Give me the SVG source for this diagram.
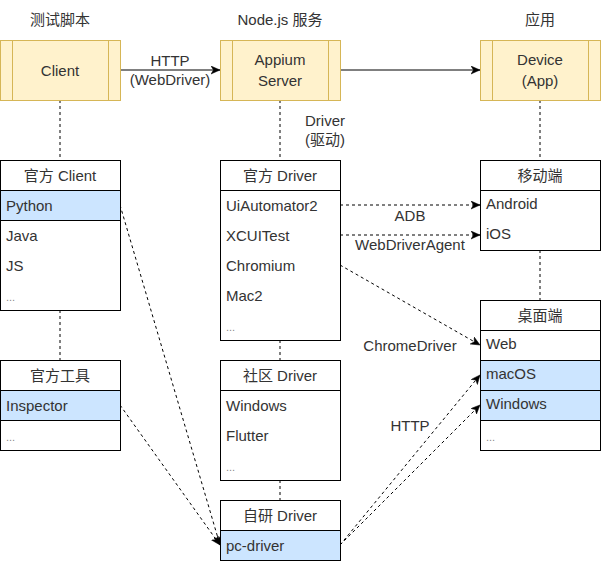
<svg xmlns="http://www.w3.org/2000/svg" width="601" height="561" viewBox="0 0 601 561">
<style>
text{font-family:"Liberation Sans","Noto Sans CJK SC",Arial,sans-serif;font-size:15px;fill:#333}
.c{text-anchor:middle}
.y{fill:#fff2cc;stroke:#d6b656;stroke-width:1}
.w{fill:#fff;stroke:#000;stroke-width:1}
.b{fill:#cce5ff;stroke:#000;stroke-width:1}
.l{stroke:#000;stroke-width:1;fill:none}
.d{stroke:#000;stroke-width:1;fill:none;stroke-dasharray:3 3}
.dim{fill:#888;font-size:11px}
</style>
<defs>
<marker id="ah" markerUnits="userSpaceOnUse" markerWidth="10" markerHeight="10" refX="9" refY="4" orient="auto">
<path d="M0,0 L9,4 L0,8 L2.5,4 Z" fill="#000" stroke="#000" stroke-width="0.5"/>
</marker>
</defs>
<rect width="601" height="561" fill="#fff"/>
<text class="c" x="60" y="25">测试脚本</text>
<text class="c" x="280" y="25">Node.js 服务</text>
<text class="c" x="540" y="25">应用</text>

<g id="connectors">
<line class="l" x1="120" y1="70" x2="220" y2="70" marker-end="url(#ah)"/>
<line class="l" x1="340" y1="70" x2="480" y2="70" marker-end="url(#ah)"/>
<line class="d" x1="60" y1="100" x2="60" y2="160"/>
<line class="d" x1="280" y1="100" x2="280" y2="160"/>
<line class="d" x1="540" y1="100" x2="540" y2="160"/>
<line class="d" x1="60" y1="310" x2="60" y2="360"/>
<line class="d" x1="280" y1="340" x2="280" y2="360"/>
<line class="d" x1="280" y1="480" x2="280" y2="500"/>
<line class="d" x1="540" y1="250" x2="540" y2="300"/>
<line class="d" x1="340" y1="205" x2="480" y2="205" marker-end="url(#ah)"/>
<line class="d" x1="340" y1="235" x2="480" y2="235" marker-end="url(#ah)"/>
<line class="d" x1="340" y1="265" x2="480" y2="345" marker-end="url(#ah)"/>
<line class="d" x1="120" y1="205" x2="220" y2="545" marker-end="url(#ah)"/>
<line class="d" x1="120" y1="405" x2="220" y2="545" marker-end="url(#ah)"/>
<line class="d" x1="340" y1="545" x2="480" y2="375" marker-end="url(#ah)"/>
<line class="d" x1="340" y1="545" x2="480" y2="405" marker-end="url(#ah)"/>
<text class="c" x="170" y="66">HTTP</text>
<text class="c" x="170" y="85">(WebDriver)</text>
<text class="c" x="325" y="126">Driver</text>
<text class="c" x="325" y="145">(驱动)</text>
<text class="c" x="410" y="221">ADB</text>
<text class="c" x="410" y="250">WebDriverAgent</text>
<text class="c" x="410" y="351">ChromeDriver</text>
<text class="c" x="410" y="431">HTTP</text>
</g>

<g id="client">
<rect class="y" x="0.5" y="40.5" width="120" height="60"/>
<line class="y" x1="12.5" y1="40.5" x2="12.5" y2="100.5"/>
<line class="y" x1="108.5" y1="40.5" x2="108.5" y2="100.5"/>
<text class="c" x="60" y="76">Client</text>
</g>
<g id="appium-server">
<rect class="y" x="220.5" y="40.5" width="120" height="60"/>
<line class="y" x1="232.5" y1="40.5" x2="232.5" y2="100.5"/>
<line class="y" x1="328.5" y1="40.5" x2="328.5" y2="100.5"/>
<text class="c" x="280" y="65">Appium</text>
<text class="c" x="280" y="86">Server</text>
</g>
<g id="device">
<rect class="y" x="480.5" y="40.5" width="120" height="60"/>
<line class="y" x1="492.5" y1="40.5" x2="492.5" y2="100.5"/>
<line class="y" x1="588.5" y1="40.5" x2="588.5" y2="100.5"/>
<text class="c" x="540" y="65">Device</text>
<text class="c" x="540" y="86">(App)</text>
</g>

<g id="official-client">
<rect class="w" x="0.5" y="160.5" width="120" height="150"/>
<rect class="b" x="0.5" y="190.5" width="120" height="30"/>
<text class="c" x="60" y="181">官方 Client</text>
<text x="6" y="211">Python</text>
<text x="6" y="241">Java</text>
<text x="6" y="271">JS</text>
<text x="6" y="301" class="dim">...</text>
</g>

<g id="official-driver">
<rect class="w" x="220.5" y="160.5" width="120" height="180"/>
<line class="l" x1="220.5" y1="190.5" x2="340.5" y2="190.5"/>
<text class="c" x="280" y="181">官方 Driver</text>
<text x="226" y="211">UiAutomator2</text>
<text x="226" y="241">XCUITest</text>
<text x="226" y="271">Chromium</text>
<text x="226" y="301">Mac2</text>
<text x="226" y="331" class="dim">...</text>
</g>

<g id="official-tools">
<rect class="w" x="0.5" y="360.5" width="120" height="90"/>
<rect class="b" x="0.5" y="390.5" width="120" height="30"/>
<text class="c" x="60" y="381">官方工具</text>
<text x="6" y="411">Inspector</text>
<text x="6" y="441" class="dim">...</text>
</g>

<g id="community-driver">
<rect class="w" x="220.5" y="360.5" width="120" height="120"/>
<line class="l" x1="220.5" y1="390.5" x2="340.5" y2="390.5"/>
<text class="c" x="280" y="381">社区 Driver</text>
<text x="226" y="411">Windows</text>
<text x="226" y="441">Flutter</text>
<text x="226" y="471" class="dim">...</text>
</g>

<g id="custom-driver">
<rect class="w" x="220.5" y="500.5" width="120" height="60"/>
<rect class="b" x="220.5" y="530.5" width="120" height="30"/>
<text class="c" x="280" y="521">自研 Driver</text>
<text x="226" y="551">pc-driver</text>
</g>

<g id="mobile">
<rect class="w" x="480.5" y="160.5" width="120" height="90"/>
<line class="l" x1="480.5" y1="190.5" x2="600.5" y2="190.5"/>
<text class="c" x="540" y="181">移动端</text>
<text x="486" y="209">Android</text>
<text x="486" y="239">iOS</text>
</g>

<g id="desktop">
<rect class="w" x="480.5" y="300.5" width="120" height="150"/>
<line class="l" x1="480.5" y1="330.5" x2="600.5" y2="330.5"/>
<rect class="b" x="480.5" y="360.5" width="120" height="30"/>
<rect class="b" x="480.5" y="390.5" width="120" height="30"/>
<text class="c" x="540" y="321">桌面端</text>
<text x="486" y="349">Web</text>
<text x="486" y="379">macOS</text>
<text x="486" y="409">Windows</text>
<text x="486" y="441" class="dim">...</text>
</g>
</svg>
